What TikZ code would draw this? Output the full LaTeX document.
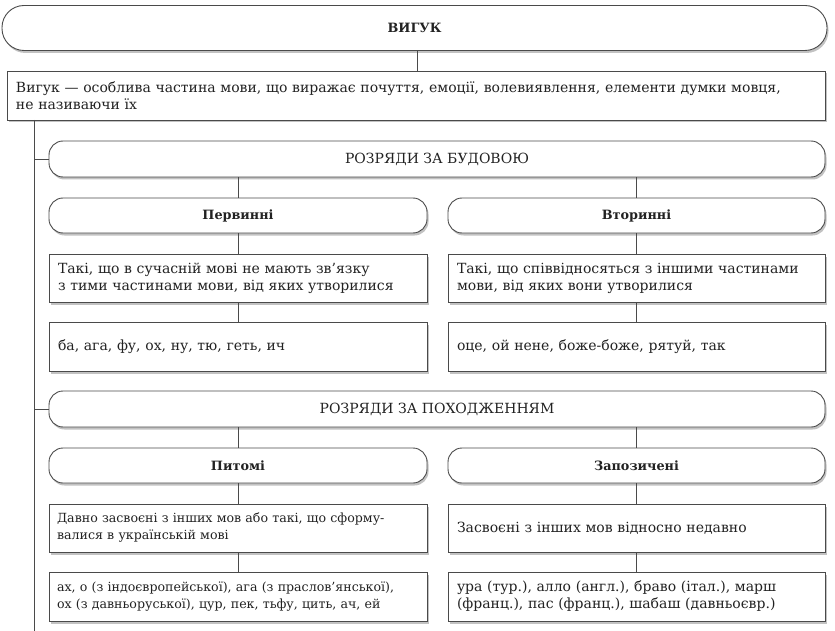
\documentclass[tikz,border=0pt]{standalone}
\usepackage{fontspec}
\setmainfont{DejaVu Serif}
\usetikzlibrary{shadows}
\definecolor{linec}{HTML}{4A4A4A}
\definecolor{textc}{HTML}{222222}
\newcommand{\mytext}{\fontsize{14}{17}\selectfont}
\newcommand{\mysmall}{\fontsize{12.6}{17}\selectfont}
\newcommand{\mybold}{\fontsize{12.8}{15}\selectfont\bfseries}
\tikzset{
  base/.style={draw=linec, line width=0.9pt, fill=white, text=textc,
    drop shadow={shadow xshift=1.5pt, shadow yshift=-2.5pt, fill=black!40, opacity=0.6}},
  pill/.style={base, rounded corners=14pt, inner sep=0pt, font=\mytext},
  boldpill/.style={pill, font=\mybold},
  txtbox/.style={base, inner xsep=9pt, inner ysep=0pt, align=left, font=\mytext},
  conn/.style={draw=linec, line width=0.9pt}
}
\begin{document}
\begin{tikzpicture}[x=1pt,y=-1pt]
\useasboundingbox (0,0) rectangle (835,631);
% top
\node[boldpill, rounded corners=22pt, minimum width=825pt, minimum height=45pt] (top) at (414.5,28) {ВИГУК};
\node[txtbox, text width=800pt, minimum height=49pt] (def) at (416,95.5)
  {Вигук — особлива частина мови, що виражає почуття, емоції, волевиявлення, елементи думки мовця,\\не називаючи їх};
% section 1
\node[pill, minimum width=776pt, minimum height=36pt] (sec1) at (437,159) {РОЗРЯДИ ЗА БУДОВОЮ};
\node[boldpill, minimum width=378pt, minimum height=35pt] (p1) at (238,215.5) {Первинні};
\node[boldpill, minimum width=377pt, minimum height=35pt] (v1) at (636.5,215.5) {Вторинні};
\node[txtbox, text width=360pt, minimum height=48pt] (p1t) at (238,278)
  {Такі, що в сучасній мові не мають зв’язку\\з тими частинами мови, від яких утворилися};
\node[txtbox, text width=359pt, minimum height=48pt] (v1t) at (636.5,278)
  {Такі, що співвідносяться з іншими частинами\\мови, від яких вони утворилися};
\node[txtbox, text width=360pt, minimum height=49pt] (p1e) at (238,346.5)
  {ба, ага, фу, ох, ну, тю, геть, ич};
\node[txtbox, text width=359pt, minimum height=49pt] (v1e) at (636.5,346.5)
  {оце, ой нене, боже-боже, рятуй, так};
% section 2
\node[pill, minimum width=776pt, minimum height=36pt] (sec2) at (437,409) {РОЗРЯДИ ЗА ПОХОДЖЕННЯМ};
\node[boldpill, minimum width=378pt, minimum height=35pt] (p2) at (238,465.5) {Питомі};
\node[boldpill, minimum width=377pt, minimum height=35pt] (v2) at (636.5,465.5) {Запозичені};
\node[txtbox, font=\mysmall, text width=362pt, inner xsep=8pt, minimum height=48pt] (p2t) at (238,528)
  {Давно засвоєні з інших мов або такі, що сформу-\\валися в українській мові};
\node[txtbox, text width=359pt, minimum height=48pt] (v2t) at (636.5,528)
  {Засвоєні з інших мов відносно недавно};
\node[txtbox, font=\mysmall, text width=362pt, inner xsep=8pt, minimum height=49pt] (p2e) at (238,596.5)
  {ах, о (з індоєвропейської), ага (з праслов’янської),\\ох (з давньоруської), цур, пек, тьфу, цить, ач, ей};
\node[txtbox, text width=359pt, minimum height=49pt] (v2e) at (636.5,596.5)
  {ура (тур.), алло (англ.), браво (італ.), марш\\(франц.), пас (франц.), шабаш (давньоєвр.)};
% connectors
\coordinate (vtop) at (34,120);
\coordinate (vbot) at (34,631);
\draw[conn] (top.south -| 417,0) -- (def.north -| 417,0);
\draw[conn] (vtop) -- (vbot);
\draw[conn] (vtop |- sec1.west) -- (sec1.west);
\draw[conn] (vtop |- sec2.west) -- (sec2.west);
\foreach \s/\a/\b in {sec1/p1/v1, sec2/p2/v2}{
  \draw[conn] (\a.north |- \s.south) -- (\a.north);
  \draw[conn] (\b.north |- \s.south) -- (\b.north);
}
\foreach \a/\b/\c in {p1/p1t/p1e, v1/v1t/v1e, p2/p2t/p2e, v2/v2t/v2e}{
  \draw[conn] (\a.south) -- (\b.north);
  \draw[conn] (\b.south) -- (\c.north);
}
\end{tikzpicture}
\end{document}
